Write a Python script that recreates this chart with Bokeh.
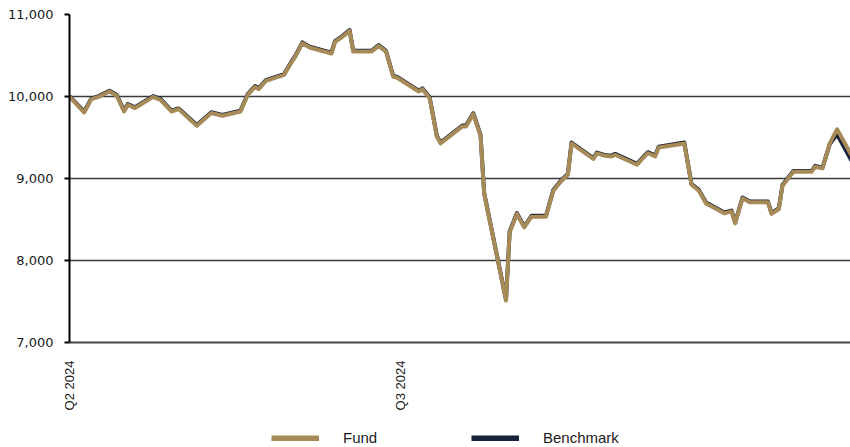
import pandas as pd
from bokeh.plotting import figure
from bokeh.layouts import column
from bokeh.models import Range1d, FixedTicker, Legend, LegendItem, ColumnDataSource, NumeralTickFormatter
from bokeh.embed import file_html
from bokeh.resources import INLINE

dates = ["2024-04-01", "2024-04-05", "2024-04-07", "2024-04-09", "2024-04-12", "2024-04-14",
         "2024-04-16", "2024-04-17", "2024-04-19", "2024-04-24", "2024-04-26", "2024-04-28",
         "2024-04-29", "2024-05-01", "2024-05-06", "2024-05-10", "2024-05-13", "2024-05-18",
         "2024-05-20", "2024-05-22", "2024-05-23", "2024-05-25", "2024-05-30", "2024-06-01",
         "2024-06-02", "2024-06-04", "2024-06-06", "2024-06-12", "2024-06-13", "2024-06-15",
         "2024-06-17", "2024-06-18", "2024-06-23", "2024-06-25", "2024-06-27", "2024-06-29",
         "2024-06-30", "2024-07-06", "2024-07-07", "2024-07-09", "2024-07-11", "2024-07-12",
         "2024-07-18", "2024-07-19", "2024-07-21", "2024-07-23", "2024-07-24", "2024-07-30",
         "2024-07-31", "2024-08-02", "2024-08-04", "2024-08-06", "2024-08-10", "2024-08-12",
         "2024-08-14", "2024-08-16", "2024-08-17", "2024-08-23", "2024-08-24", "2024-08-26",
         "2024-08-28", "2024-08-29", "2024-09-04", "2024-09-05", "2024-09-07", "2024-09-09",
         "2024-09-10", "2024-09-17", "2024-09-19", "2024-09-21", "2024-09-23", "2024-09-28",
         "2024-09-30", "2024-10-01", "2024-10-03", "2024-10-05", "2024-10-10", "2024-10-11",
         "2024-10-13", "2024-10-14", "2024-10-17", "2024-10-22", "2024-10-23", "2024-10-25",
         "2024-10-27", "2024-10-29", "2024-11-02"]

fund = [10000, 9805, 9968, 9996, 10061, 10009, 9817, 9899, 9859, 9996,
        9960, 9866, 9817, 9846, 9643, 9798, 9765, 9817, 10020, 10118,
        10090, 10191, 10264, 10414, 10480, 10650, 10597, 10524, 10666, 10727,
        10800, 10548, 10548, 10618, 10548, 10240, 10231, 10061, 10090, 9980,
        9509, 9428, 9635, 9635, 9786, 9521, 8811, 7512, 8343, 8568,
        8404, 8535, 8535, 8851, 8960, 9046, 9428, 9238, 9306, 9278,
        9269, 9290, 9168, 9217, 9311, 9269, 9379, 9428, 8923, 8851,
        8696, 8575, 8599, 8453, 8758, 8709, 8709, 8568, 8628, 8911,
        9081, 9081, 9144, 9123, 9428, 9600, 9280]

benchmark = [10005, 9815, 9975, 10005, 10070, 10018, 9828, 9908, 9868, 10005,
             9970, 9876, 9828, 9855, 9652, 9808, 9775, 9826, 10030, 10128,
             10100, 10200, 10274, 10424, 10490, 10660, 10607, 10534, 10676, 10737,
             10810, 10558, 10558, 10628, 10558, 10250, 10241, 10071, 10100, 9990,
             9519, 9438, 9645, 9645, 9796, 9531, 8821, 7522, 8353, 8578,
             8414, 8545, 8545, 8861, 8970, 9056, 9438, 9248, 9316, 9288,
             9279, 9300, 9178, 9227, 9321, 9279, 9389, 9438, 8933, 8861,
             8706, 8585, 8609, 8463, 8768, 8719, 8719, 8578, 8638, 8921,
             9091, 9091, 9154, 9133, 9420, 9540, 9215]

tick_dates = ["2024-04-01", "2024-07-01"]
tick_labels = ["Q2 2024", "Q3 2024"]
y_ticks = [7000, 8000, 9000, 10000, 11000]
grid_ticks = [8000, 9000, 10000]
series_names = ["Fund", "Benchmark"]

FUND_COLOR = "#A68A58"
BENCH_COLOR = "#15223A"

src = ColumnDataSource(dict(x=pd.to_datetime(dates), fund=fund, bench=benchmark))

def ms(s):
    return pd.Timestamp(s).value / 1e6

x_start = ms("2024-04-01")
x_end = x_start + 214.7 * 86400000

p = figure(width=850, height=425, x_axis_type="datetime",
           x_range=Range1d(x_start, x_end), y_range=Range1d(7000, 11000),
           output_backend="svg", toolbar_location=None,
           min_border_left=69, min_border_right=0, min_border_top=14, min_border_bottom=83)
p.outline_line_color = None
p.background_fill_color = "white"

p.line("x", "bench", source=src, line_color=BENCH_COLOR, line_width=4, line_join="round")
p.line("x", "fund", source=src, line_color=FUND_COLOR, line_width=4, line_join="round")

# grid
p.xgrid.visible = False
p.ygrid.ticker = FixedTicker(ticks=grid_ticks)
p.ygrid.grid_line_color = "#3a3a3a"
p.ygrid.grid_line_width = 1.5

# y axis
yax = p.yaxis[0]
yax.ticker = FixedTicker(ticks=y_ticks)
yax.formatter = NumeralTickFormatter(format="0,0")
yax.axis_line_color = "black"
yax.axis_line_width = 2
yax.major_tick_line_color = "black"
yax.major_tick_line_width = 2
yax.major_tick_out = 5
yax.major_tick_in = 0
yax.minor_tick_line_color = None
yax.major_label_standoff = 11
yax.major_label_text_font = "DejaVu Sans"
yax.major_label_text_font_size = "13px"
yax.major_label_text_color = "#1a1a1a"

# x axis
xax = p.xaxis[0]
tick_ms = [ms(d) for d in tick_dates]
xax.ticker = FixedTicker(ticks=tick_ms)
xax.major_label_overrides = {t: l for t, l in zip(tick_ms, tick_labels)}
xax.major_label_orientation = 3.14159265 / 2
xax.axis_line_color = "#444444"
xax.axis_line_width = 2
xax.major_tick_out = 0
xax.major_tick_in = 0
xax.minor_tick_line_color = None
xax.major_label_standoff = 18
xax.major_label_text_font = "Liberation Sans"
xax.major_label_text_font_size = "13px"
xax.major_label_text_color = "#1a1a1a"

# legend strip
lg = figure(width=850, height=22, x_range=Range1d(0, 1), y_range=Range1d(0, 1),
            output_backend="svg", toolbar_location=None,
            x_axis_location=None, y_axis_location=None,
            min_border_left=0, min_border_right=0, min_border_top=0, min_border_bottom=0)
lg.outline_line_color = None
lg.xgrid.visible = False
lg.ygrid.visible = False
nan = float("nan")
r_f = lg.line(x=[nan], y=[nan], line_color=FUND_COLOR, line_width=6)
r_b = lg.line(x=[nan], y=[nan], line_color=BENCH_COLOR, line_width=6)

legend = Legend(items=[LegendItem(label=series_names[0], renderers=[r_f]),
                       LegendItem(label=series_names[1], renderers=[r_b])],
                orientation="horizontal", location=(202, 1),
                glyph_width=48, glyph_height=6, label_standoff=24, label_width=128,
                spacing=0, padding=0, margin=0,
                border_line_color=None, background_fill_alpha=0,
                label_text_font="Liberation Sans", label_text_font_size="15px",
                label_text_color="#1a1a1a")
lg.add_layout(legend, "center")

layout = column(p, lg, spacing=0)
open("out.html", "w").write(file_html(layout, INLINE))
